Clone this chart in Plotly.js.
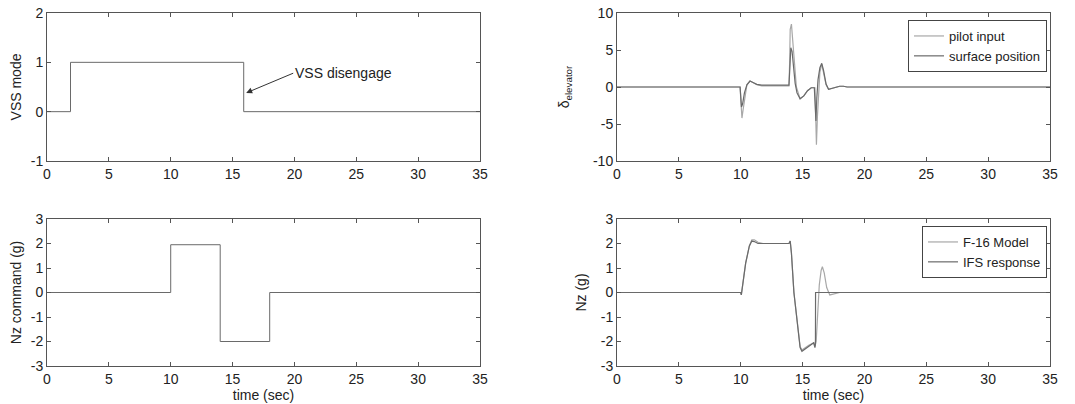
<!DOCTYPE html>
<html>
<head>
<meta charset="utf-8">
<script src="https://cdn.plot.ly/plotly-3.0.1.min.js"></script>
<style>html,body{margin:0;padding:0;background:#fff;}</style>
</head>
<body>
<div id="chart" style="width:1075px;height:404px;"></div>
<script>
// ---- Data ----
// VSS mode (top-left), step
var vssT = [0, 1.9, 15.9, 35];
var vssV = [0, 1, 0, 0];

// Nz command (bottom-left), step
var nzCmdT = [0, 10, 14, 18, 35];
var nzCmdV = [0, 1.95, -2, 0, 0];

// Elevator deflection (top-right)
var pilotT = [0, 9.95, 10.0, 10.1, 10.2, 10.35, 10.5, 10.75, 11.0, 11.3, 11.7, 13.9, 13.95, 14.0, 14.1, 14.2, 14.35, 14.5, 14.8, 15.1, 15.4, 15.7, 16.0, 16.05, 16.12, 16.2, 16.3, 16.4, 16.55, 16.7, 16.9, 17.1, 17.5, 18.0, 18.3, 18.6, 19.0, 35];
var pilotV = [0, 0, -1.5, -4.2, -3.0, -1.0, 0.3, 0.8, 0.6, 0.3, 0.15, 0.15, 3.0, 7.8, 8.5, 6.5, 2.5, 0.0, -1.6, -1.2, -0.5, -0.1, -0.1, -3.5, -7.8, -4.0, -0.5, 2.0, 3.1, 2.0, 0.3, -0.3, -0.1, 0.1, 0.1, 0, 0, 0];
var surfT = [0, 9.95, 10.0, 10.06, 10.15, 10.3, 10.5, 10.75, 11.0, 11.3, 11.7, 13.9, 13.97, 14.05, 14.15, 14.25, 14.4, 14.55, 14.8, 15.1, 15.4, 15.7, 15.95, 16.02, 16.08, 16.15, 16.25, 16.4, 16.55, 16.7, 16.9, 17.1, 17.5, 18.0, 18.3, 18.6, 19.0, 35];
var surfV = [0, 0, -1.2, -2.7, -2.3, -0.8, 0.3, 0.8, 0.6, 0.35, 0.25, 0.25, 2.5, 5.3, 4.8, 2.8, 0.5, -0.8, -1.6, -1.2, -0.5, -0.1, -0.1, -2.5, -4.6, -1.5, 1.0, 2.6, 3.2, 2.2, 0.4, -0.3, -0.1, 0.1, 0.1, 0, 0, 0];

// Nz response (bottom-right)
var f16T = [0, 10.0, 10.05, 10.15, 10.4, 10.7, 10.9, 11.1, 11.4, 11.8, 13.9, 14.0, 14.1, 14.3, 14.6, 14.8, 14.95, 15.2, 15.5, 15.9, 16.0, 16.1, 16.2, 16.35, 16.5, 16.6, 16.75, 16.95, 17.2, 17.6, 18.0, 35];
var f16V = [0, 0, -0.1, 0.3, 1.2, 1.9, 2.15, 2.15, 2.05, 2.0, 2.0, 2.1, 1.6, 0.0, -1.5, -2.2, -2.35, -2.25, -2.15, -2.05, -2.2, -2.0, -0.8, 0.3, 0.9, 1.05, 0.8, 0.2, -0.1, -0.05, 0, 0];
var ifsT = [0, 10.0, 10.05, 10.15, 10.4, 10.7, 10.9, 11.1, 11.4, 11.8, 13.9, 14.0, 14.1, 14.3, 14.6, 14.8, 14.95, 15.2, 15.5, 15.9, 16.0, 16.04, 16.05, 35];
var ifsV = [0, 0, -0.1, 0.3, 1.2, 1.9, 2.1, 2.08, 2.0, 2.0, 2.0, 2.1, 1.6, 0.0, -1.5, -2.25, -2.4, -2.3, -2.2, -2.05, -2.25, -2.1, 0, 0];

// Tick labels
var xTicks = [0, 5, 10, 15, 20, 25, 30, 35];
var vssTicks = [-1, 0, 1, 2];
var vssTickText = ['-1', '0', '1', '2'];
var elevTicks = [-10, -5, 0, 5, 10];
var elevTickText = ['-10', '-5', '0', '5', '10'];
var nzTicks = [-3, -2, -1, 0, 1, 2, 3];
var nzTickText = ['-3', '-2', '-1', '0', '1', '2', '3'];

// ---- Styles ----
var FONT = 'Liberation Sans, Arial, Helvetica, sans-serif';
var FS = 14;
var TXT = '#222';
var AX = '#555';
var LIGHT = '#a8a8a8';
var DARK = '#6a6a6a';

var traces = [
  {x: vssT, y: vssV, xaxis: 'x', yaxis: 'y', mode: 'lines', line: {shape: 'hv', color: DARK, width: 1}, showlegend: false},
  {x: pilotT, y: pilotV, xaxis: 'x2', yaxis: 'y2', mode: 'lines', name: 'pilot input', line: {color: LIGHT, width: 1.2}, legend: 'legend'},
  {x: surfT, y: surfV, xaxis: 'x2', yaxis: 'y2', mode: 'lines', name: 'surface position', line: {color: DARK, width: 1.2}, legend: 'legend'},
  {x: nzCmdT, y: nzCmdV, xaxis: 'x3', yaxis: 'y3', mode: 'lines', line: {shape: 'hv', color: DARK, width: 1}, showlegend: false},
  {x: f16T, y: f16V, xaxis: 'x4', yaxis: 'y4', mode: 'lines', name: 'F-16 Model', line: {color: LIGHT, width: 1.2}, legend: 'legend2'},
  {x: ifsT, y: ifsV, xaxis: 'x4', yaxis: 'y4', mode: 'lines', name: 'IFS response', line: {color: DARK, width: 1.2}, legend: 'legend2'}
];

function xa(dom, anchor, title) {
  var o = {domain: dom, anchor: anchor, range: [0, 35], tickmode: 'array', tickvals: xTicks, ticks: 'inside', ticklen: 4,
    tickcolor: AX, showline: true, linecolor: AX, linewidth: 1, mirror: 'ticks', showgrid: false, zeroline: false,
    tickfont: {family: FONT, size: FS, color: TXT}, fixedrange: true};
  if (title) o.title = {text: title, font: {family: FONT, size: FS, color: TXT}, standoff: 1};
  return o;
}
function ya(dom, anchor, range, vals, txt, title, standoff) {
  return {domain: dom, anchor: anchor, range: range, tickmode: 'array', tickvals: vals, ticktext: txt, ticks: 'inside', ticklen: 4,
    tickcolor: AX, showline: true, linecolor: AX, linewidth: 1, mirror: 'ticks', showgrid: false, zeroline: false,
    tickfont: {family: FONT, size: FS, color: TXT}, fixedrange: true,
    title: {text: title, font: {family: FONT, size: FS, color: TXT}, standoff: standoff}};
}

var LX = [47/1075, 480/1075];
var RX = [617/1075, 1050/1075];
var TY = [1 - 161/404, 1 - 13/404];
var BY = [1 - 366/404, 1 - 219/404];

var legendStyle = function (ytop) {
  return {x: 1047/1075, y: ytop, xanchor: 'right', yanchor: 'top', bgcolor: '#fff',
    bordercolor: '#444', borderwidth: 1, font: {family: FONT, size: 13, color: TXT}, tracegroupgap: 0};
};

var layout = {
  width: 1075, height: 404,
  margin: {l: 0, r: 0, t: 0, b: 0},
  paper_bgcolor: '#fff', plot_bgcolor: '#fff',
  font: {family: FONT, size: FS, color: TXT},
  xaxis: xa(LX, 'y'),
  yaxis: ya(TY, 'x', [-1, 2], vssTicks, vssTickText, 'VSS mode', 5),
  xaxis2: xa(RX, 'y2'),
  yaxis2: ya(TY, 'x2', [-10, 10], elevTicks, elevTickText, 'δ<sub>elevator</sub>', 20),
  xaxis3: xa(LX, 'y3', 'time (sec)'),
  yaxis3: ya(BY, 'x3', [-3, 3], nzTicks, nzTickText, 'Nz command (g)', 5),
  xaxis4: xa(RX, 'y4', 'time (sec)'),
  yaxis4: ya(BY, 'x4', [-3, 3], nzTicks, nzTickText, 'Nz (g)', 10),
  legend: legendStyle(1 - 20/404),
  legend2: legendStyle(1 - 226/404),
  annotations: [{
    xref: 'x', yref: 'y', x: 16.1, y: 0.38, axref: 'x', ayref: 'y', ax: 19.9, ay: 0.78,
    text: 'VSS disengage', xanchor: 'left', showarrow: true, arrowhead: 2, arrowsize: 1.2, arrowwidth: 1,
    arrowcolor: '#333', font: {family: FONT, size: FS, color: TXT}
  }]
};

Plotly.newPlot('chart', traces, layout, {displayModeBar: false, staticPlot: true});
</script>
</body>
</html>
